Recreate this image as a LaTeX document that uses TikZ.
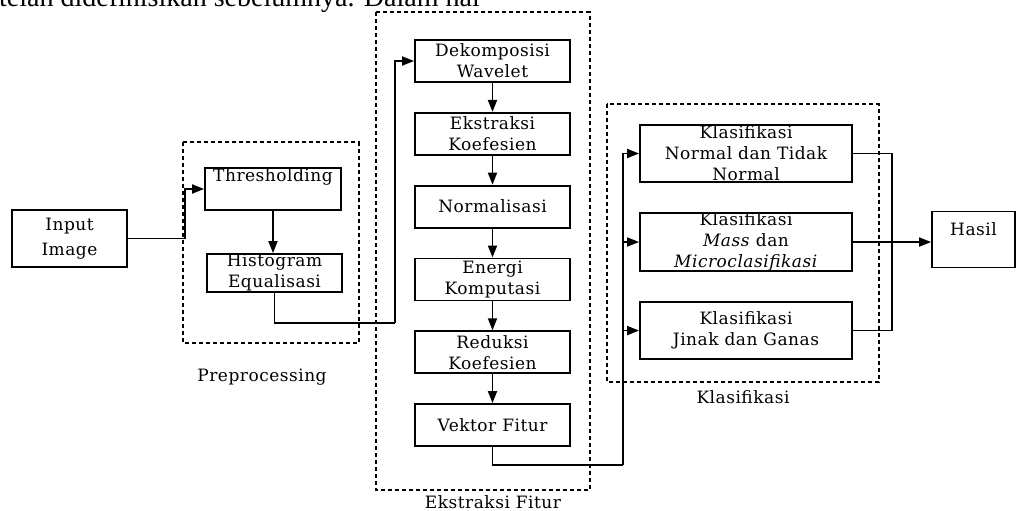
\documentclass[tikz,border=0pt]{standalone}
\usepackage{fontspec}
\setmainfont{Liberation Serif}
\newfontfamily\boxfont{DejaVu Serif}[LetterSpace=3]
\usetikzlibrary{positioning,arrows.meta,calc}

\begin{document}
\begin{tikzpicture}[x=1pt,y=-1pt,
  node distance=29pt,
  box/.style={draw,line width=1.8pt,inner sep=0pt,align=center,font=\boxfont\fontsize{17pt}{21pt}\selectfont},
  ebox/.style={box,minimum width=155pt,minimum height=42pt},
  kbox/.style={box,minimum width=212pt,minimum height=57pt},
  lbl/.style={inner sep=0pt,font=\boxfont\fontsize{17pt}{21pt}\selectfont},
  grp/.style={draw,line width=1.5pt,dash pattern=on 4pt off 3pt},
  ln/.style={line width=1.8pt},
  ar/.style={ln,-{Triangle[length=12pt,width=9pt]}}]
\useasboundingbox (0,0) rectangle (1018,511);
\fill[white] (0,0) rectangle (1018,511);
\clip (0,0) rectangle (1018,511);
% cut-off line of body text
\node[anchor=base west,inner sep=0pt,font=\fontsize{28pt}{30pt}\selectfont] (topline) at (-1,7) {telah didefinisikan sebelumnya. Dalam hal};
% input and preprocessing
\node[box,minimum width=115pt,minimum height=57pt] (inp) at (69.5,238.5) {Input\\[4pt]Image};
\node[box,minimum width=136pt,minimum height=42pt] (thr) at (273,189) {Thresholding\\\strut};
\node[box,minimum width=135pt,minimum height=38pt] (his) at (274.5,273) {Histogram\\Equalisasi};
\coordinate (pbus) at (185,238.5);
\draw[ln] (inp.east) -- (pbus); \draw[ar] (pbus) |- (thr.west);
\draw[ar] (thr) -- (thr |- his.north);
% feature extraction column
\node[ebox] (dek) at (492.5,61) {Dekomposisi\\Wavelet};
\node[ebox,below=of dek] (eks) {Ekstraksi\\Koefesien};
\node[ebox,below=of eks] (nrm) {Normalisasi};
\node[ebox,below=of nrm] (ene) {Energi\\Komputasi};
\node[ebox,below=of ene] (red) {Reduksi\\Koefesien};
\node[ebox,below=of red] (vek) {Vektor Fitur};
\draw[ar] (dek)--(eks); \draw[ar] (eks)--(nrm); \draw[ar] (nrm)--(ene);
\draw[ar] (ene)--(red); \draw[ar] (red)--(vek);
\coordinate (ebus) at (395,323);
\draw[ln] (his.south) |- (ebus); \draw[ar] (ebus) |- (dek.west);
% classification column
\node[kbox] (kn) at (746,153.5) {Klasifikasi\\Normal dan Tidak\\Normal};
\node[kbox,below=of kn] (km) {Klasifikasi\\\textit{Mass} dan\\\textit{Microclasifikasi}};
\node[kbox,below=of km] (kj) {Klasifikasi\\Jinak dan Ganas};
\node[box,minimum width=83pt,minimum height=56pt] (hasil) at (973.5,239.5) {Hasil\\[-6pt]\strut};
\coordinate (kbus) at (623,465);
\draw[ln] (vek.south) |- (kbus);
\draw[ar] (kbus) |- (kn.west); \draw[ar] (kbus) |- (km.west); \draw[ar] (kbus) |- (kj.west);
\coordinate (rcol) at (892,0);
\draw[ln] (kn.east) -| (rcol |- kj.east) -- (kj.east);
\draw[ar] (km.east) -- (km.east -| hasil.west);
% group frames and their labels
\draw[grp] ($(thr.north west)+(-21,-25)$) rectangle ($(his.south east)+(16,50)$);
\draw[grp] ($(dek.north west)+(-38,-27)$) rectangle ($(vek.south east)+(19,43)$);
\draw[grp] ($(kn.north west)+(-32,-20)$) rectangle ($(kj.south east)+(26,22)$);
\node[lbl] (lpre) at (262,377) {Preprocessing};
\node[lbl] (leks) at (493,502) {Ekstraksi Fitur};
\node[lbl] (lkla) at (743,397) {Klasifikasi};
\end{tikzpicture}
\end{document}
